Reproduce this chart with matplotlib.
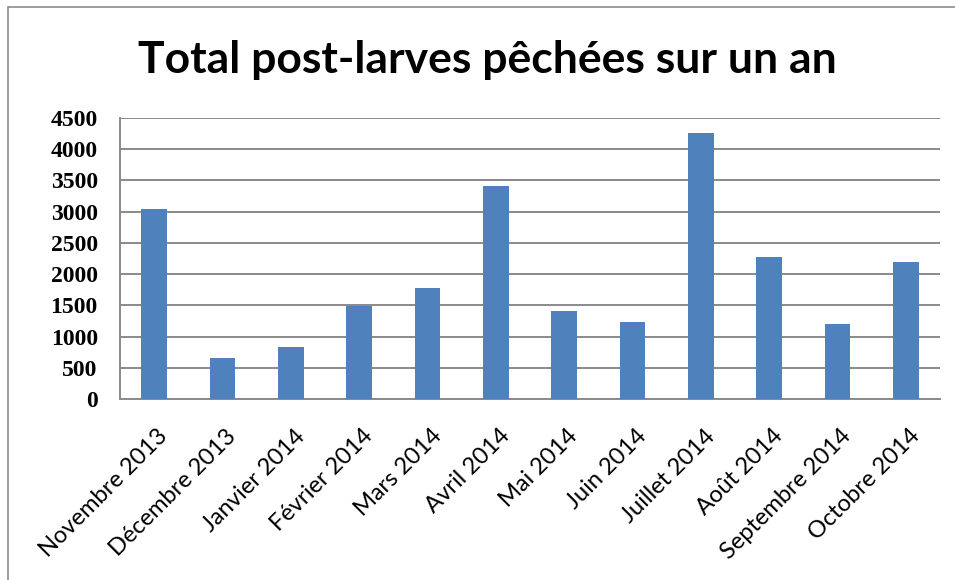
import matplotlib.pyplot as plt
import matplotlib.patches as patches
import matplotlib.transforms as mtransforms
import numpy as np

months = ['Novembre 2013', 'Décembre 2013', 'Janvier 2014', 'Février 2014',
          'Mars 2014', 'Avril 2014', 'Mai 2014', 'Juin 2014',
          'Juillet 2014', 'Août 2014', 'Septembre 2014', 'Octobre 2014']
totals = [3050, 660, 840, 1495, 1770, 3410, 1405, 1230, 4260, 2280, 1195, 2200]
yticks = [0, 500, 1000, 1500, 2000, 2500, 3000, 3500, 4000, 4500]

fig = plt.figure(figsize=(9.55, 5.8), dpi=100)
ax = fig.add_axes([120 / 955, 181 / 580, 820 / 955, 281 / 580])

x = np.arange(len(months))
ax.bar(x, totals, width=0.38, color='#4f81bd', zorder=3)

ax.set_xlim(-0.5, len(months) - 0.5)
ax.set_ylim(0, 4500)
ax.set_yticks(yticks)
ax.set_yticklabels([str(v) for v in yticks], family='Liberation Serif',
                   fontweight='bold', fontsize=17)
ax.yaxis.grid(True, color='#8a8a8a', linewidth=1.4, zorder=0)
ax.tick_params(axis='y', length=0, pad=16)
ax.tick_params(axis='x', length=0, pad=19)

ax.set_xticks(x)
ax.set_xticklabels(months, rotation=45, ha='right', va='top',
                   rotation_mode='anchor', family='Lato', fontsize=17)
shift = mtransforms.ScaledTranslation(3 / 100, 0, fig.dpi_scale_trans)
for lab in ax.get_xticklabels():
    lab.set_transform(lab.get_transform() + shift)

for side in ['top', 'right']:
    ax.spines[side].set_visible(False)
for side in ['left', 'bottom']:
    ax.spines[side].set_color('#8a8a8a')
    ax.spines[side].set_linewidth(1.4)

fig.text(487 / 955, 1 - 60 / 580, 'Total post-larves pêchées sur un an',
         ha='center', va='center', family='Lato', fontweight='bold',
         fontsize=32)

# outer frame of the chart
frame = patches.Rectangle((8 / 955, -0.05), 1.1, 1.05 - 7 / 580,
                          transform=fig.transFigure, fill=False,
                          edgecolor='#8c8c8c', linewidth=1.2)
fig.patches.append(frame)

fig.savefig('out.png', dpi=100)
